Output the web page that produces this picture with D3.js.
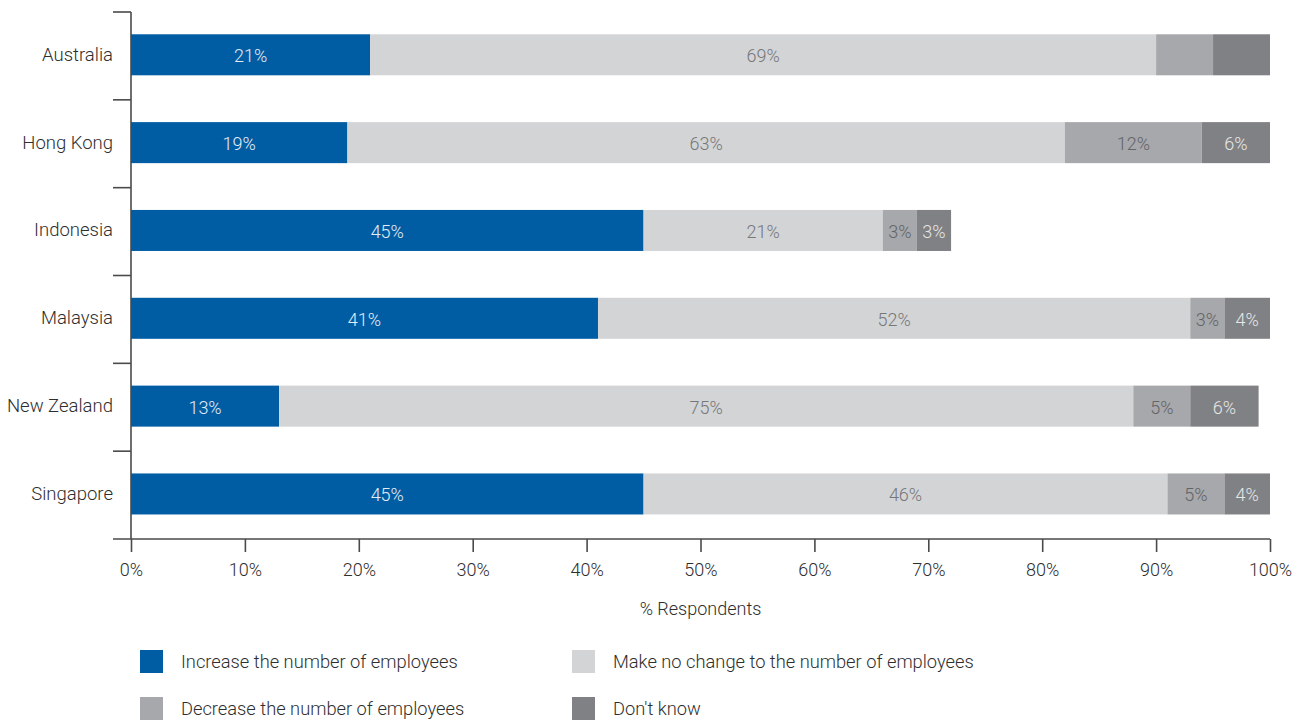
<!DOCTYPE html>
<html>
<head>
<meta charset="utf-8">
<script src="https://cdn.jsdelivr.net/npm/d3@7"></script>
<style>
  html, body { margin: 0; padding: 0; background: #ffffff; }
  svg { display: block; }
  text { font-family: "Roboto", "Liberation Sans", sans-serif; font-weight: 300; }
</style>
</head>
<body>
<svg id="chart" width="1307" height="720"></svg>
<script>
// Countries, top to bottom
const countries = ["Australia", "Hong Kong", "Indonesia", "Malaysia", "New Zealand", "Singapore"];

// Share of respondents (%) per hiring intention
const increase = [21, 19, 45, 41, 13, 45];
const noChange = [69, 63, 21, 52, 75, 46];
const decrease = [5, 12, 3, 3, 5, 5];
const dontKnow = [5, 6, 3, 4, 6, 4];

// Segments printed without a value label: [country, series]
const unlabeled = [["Australia", "decrease"], ["Australia", "dontKnow"]];

const seriesKeys = ["increase", "noChange", "decrease", "dontKnow"];
const seriesNames = [
  "Increase the number of employees",
  "Make no change to the number of employees",
  "Decrease the number of employees",
  "Don't know"
];
const xTicks = [0, 10, 20, 30, 40, 50, 60, 70, 80, 90, 100];
const xTitle = "% Respondents";

const fills = ["#005da4", "#d3d4d6", "#a7a8ab", "#808184"];
const labelInk = ["#e4ecf4", "#76777a", "#636467", "#e6e6e6"];

const rows = countries.map((c, i) => ({
  country: c,
  increase: increase[i],
  noChange: noChange[i],
  decrease: decrease[i],
  dontKnow: dontKnow[i]
}));

const svg = d3.select("#chart");
const margin = { left: 131, right: 37, top: 12, bottom: 181 };
const W = 1307, H = 720;

const x = d3.scaleLinear().domain([0, 100]).range([margin.left, W - margin.right]);
const y = d3.scaleBand().domain(countries)
  .range([margin.top, H - margin.bottom])
  .paddingInner(0.533).paddingOuter(0.2665).align(0.476);
const color = d3.scaleOrdinal().domain(seriesKeys).range(fills);
const ink = d3.scaleOrdinal().domain(seriesKeys).range(labelInk);

const stacked = d3.stack().keys(seriesKeys)(rows);

const axisColor = "#4a4a4a";
const axisTop = y.range()[0];
const axisBottom = y.range()[1];

// Stacked bars
const layers = svg.append("g").selectAll("g")
  .data(stacked).join("g")
  .attr("fill", d => color(d.key));

layers.selectAll("rect")
  .data(d => d.map(v => ({ key: d.key, v })))
  .join("rect")
  .attr("x", d => x(d.v[0]))
  .attr("y", d => y(d.v.data.country))
  .attr("width", d => x(d.v[1]) - x(d.v[0]))
  .attr("height", y.bandwidth());

// Value labels inside each segment
const isUnlabeled = (c, k) => unlabeled.some(u => u[0] === c && u[1] === k);
const labelData = [];
stacked.forEach(layer => {
  layer.forEach(v => {
    if (!isUnlabeled(v.data.country, layer.key)) {
      labelData.push({ key: layer.key, v });
    }
  });
});

svg.append("g").selectAll("text")
  .data(labelData).join("text")
  .attr("x", d => (x(d.v[0]) + x(d.v[1])) / 2)
  .attr("y", d => y(d.v.data.country) + y.bandwidth() / 2 + 1)
  .attr("text-anchor", "middle")
  .attr("dominant-baseline", "central")
  .attr("font-size", 18)
  .attr("fill", d => ink(d.key))
  .text(d => (d.v[1] - d.v[0]) + "%");

// Y axis: vertical rule with boundary ticks between countries
const yAxis = svg.append("g").attr("stroke", axisColor).attr("stroke-width", 1.6);
yAxis.append("line")
  .attr("x1", x(0)).attr("x2", x(0))
  .attr("y1", axisTop).attr("y2", axisBottom);
const boundaries = countries.map((c, i) => axisTop + i * y.step());
yAxis.selectAll("line.b")
  .data(boundaries).join("line").attr("class", "b")
  .attr("x1", x(0) - 18).attr("x2", x(0))
  .attr("y1", d => d).attr("y2", d => d);

svg.append("g").selectAll("text")
  .data(countries).join("text")
  .attr("x", x(0) - 18)
  .attr("y", d => y(d) + y.bandwidth() / 2)
  .attr("text-anchor", "end")
  .attr("dominant-baseline", "central")
  .attr("font-size", 18.5)
  .attr("fill", "#2e2e2e")
  .text(d => d);

// X axis
const xAxisG = svg.append("g")
  .attr("transform", `translate(0,${axisBottom})`)
  .call(d3.axisBottom(x).tickValues(xTicks).tickSize(13).tickSizeOuter(0).tickPadding(11)
    .tickFormat(d => d + "%"));
xAxisG.select(".domain").remove();
xAxisG.insert("line", ":first-child")
  .attr("x1", x(0) - 18).attr("x2", x(100))
  .attr("y1", 0).attr("y2", 0)
  .attr("stroke", axisColor).attr("stroke-width", 1.6);
xAxisG.selectAll(".tick line").attr("stroke", axisColor).attr("stroke-width", 1.6);
xAxisG.selectAll(".tick text")
  .attr("font-size", 18)
  .attr("fill", "#2e2e2e")
  .style("font-family", "Roboto, 'Liberation Sans', sans-serif")
  .style("font-weight", 300);

svg.append("text")
  .attr("x", (x(0) + x(100)) / 2)
  .attr("y", 608)
  .attr("text-anchor", "middle")
  .attr("dominant-baseline", "central")
  .attr("font-size", 18)
  .attr("fill", "#2e2e2e")
  .text(xTitle);

// Legend, two columns by two rows
const legendPos = [
  { x: 140, y: 650 }, { x: 572, y: 650 },
  { x: 140, y: 697 }, { x: 572, y: 697 }
];
const legend = svg.append("g").selectAll("g")
  .data(seriesKeys).join("g")
  .attr("transform", (d, i) => `translate(${legendPos[i].x},${legendPos[i].y})`);
legend.append("rect")
  .attr("width", 23).attr("height", 23)
  .attr("fill", d => color(d));
legend.append("text")
  .attr("x", 41).attr("y", 11.5)
  .attr("dominant-baseline", "central")
  .attr("font-size", 18.3)
  .attr("fill", "#2e2e2e")
  .text((d, i) => seriesNames[i]);
</script>
</body>
</html>
